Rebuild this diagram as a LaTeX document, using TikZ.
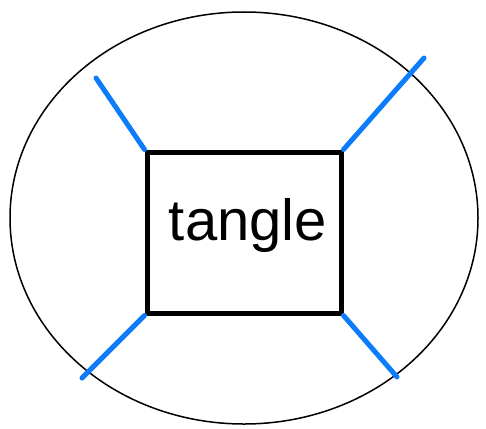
\documentclass[tikz,border=0pt]{standalone}
\usepackage{fontspec}
\setmainfont{Liberation Sans}
\definecolor{strandblue}{RGB}{12,124,250}
\begin{document}
\begin{tikzpicture}[
  x=1pt, y=-1pt,
  tanglebox/.style={draw, line width=5pt, minimum width=194pt, minimum height=161pt, inner sep=0pt},
  tanglelabel/.style={font=\fontsize{58}{58}\selectfont, inner sep=0pt, anchor=base},
  strand/.style={strandblue, line width=5pt, line cap=round}
]
  \useasboundingbox (0,0) rectangle (486,428);
  % Outer circle
  \draw[line width=1.5pt] (244,218) ellipse [x radius=234, y radius=206];
  % Box
  \node[tanglebox] (box) at (244,232.5) {};
  \node[tanglelabel] (label) at (248,240) {tangle};
  % Free ends of the strands
  \coordinate (nw) at (96,78);
  \coordinate (ne) at (424,58);
  \coordinate (se) at (397,377);
  \coordinate (sw) at (82,378);
  % Strands
  \draw[strand] (box.north west) -- (nw);
  \draw[strand] (box.north east) -- (ne);
  \draw[strand] (box.south east) -- (se);
  \draw[strand] (box.south west) -- (sw);
\end{tikzpicture}
\end{document}
